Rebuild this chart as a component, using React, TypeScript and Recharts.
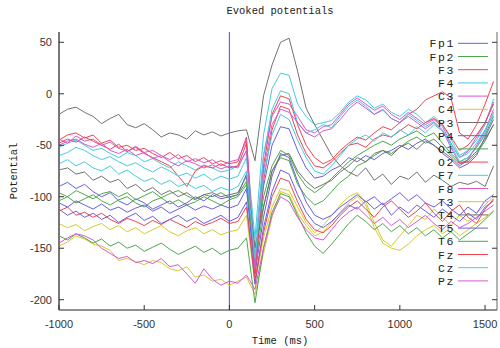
import React from 'react';
import { LineChart, Line, XAxis, YAxis, ReferenceLine } from 'recharts';

const times = [-1000, -950, -900, -850, -800, -750, -700, -650, -600, -550, -500, -450, -400, -350, -300, -250, -200, -150, -100, -50, 0, 50, 100, 150, 200, 250, 300, 350, 400, 450, 500, 550, 600, 650, 700, 750, 800, 850, 900, 950, 1000, 1050, 1100, 1150, 1200, 1250, 1300, 1350, 1400, 1450, 1500, 1550];

const xTicks = [-1000, -500, 0, 500, 1000, 1500];
const yTicks = [-200, -150, -100, -50, 0, 50];
const stimulusTime = [0];

const channelNames = ['Fp1', 'Fp2', 'F3', 'F4', 'C3', 'C4', 'P3', 'P4', 'O1', 'O2', 'F7', 'F8', 'T3', 'T4', 'T5', 'T6', 'Fz', 'Cz', 'Pz'];

const palette = ['#6a5ee0', '#4aa84a', '#ee4450', '#45cce0', '#d858d0', '#d6ca30', '#727272'];

const Fp1 = [-90, -86, -92, -88, -95, -100, -96, -104, -108, -102, -106, -112, -108, -104, -110, -106, -100, -104, -98, -102, -100, -98, -78, -165, -90, -50, -32, -34, -55, -72, -82, -80, -74, -70, -62, -66, -60, -64, -58, -55, -50, -54, -48, -44, -50, -58, -64, -72, -68, -60, -42, -25];
const Fp2 = [-104, -100, -106, -102, -98, -104, -108, -103, -100, -106, -110, -104, -101, -107, -103, -108, -105, -100, -104, -108, -103, -100, -88, -170, -110, -75, -62, -65, -88, -100, -108, -104, -95, -86, -80, -70, -66, -60, -55, -58, -52, -46, -42, -48, -44, -52, -60, -68, -66, -58, -46, -30];
const F3 = [-45, -40, -38, -43, -40, -48, -45, -52, -50, -55, -53, -58, -62, -57, -63, -60, -66, -62, -68, -65, -68, -66, -42, -170, -70, -20, -2, -5, -30, -50, -62, -68, -64, -55, -48, -42, -45, -38, -32, -35, -28, -20, -15, -6, -2, 2, -4, -38, -44, -30, -10, 12];
const F4 = [-52, -48, -45, -50, -55, -53, -58, -62, -57, -60, -66, -63, -68, -72, -66, -70, -74, -69, -72, -76, -74, -70, -55, -140, -40, 5, 20, 18, -10, -22, -30, -28, -26, -18, -8, -2, -6, -14, -10, -18, -22, -15, -20, -28, -22, -30, -44, -60, -55, -45, -30, -5];
const C3 = [-44, -48, -41, -46, -44, -50, -47, -53, -56, -51, -57, -55, -60, -64, -59, -66, -63, -67, -64, -70, -66, -64, -45, -165, -60, -22, -8, -10, -22, -35, -38, -32, -30, -20, -10, -4, -10, -16, -12, -20, -25, -18, -24, -30, -25, -32, -48, -62, -56, -42, -28, -8];
const C4 = [-126, -130, -127, -133, -129, -126, -132, -128, -134, -130, -136, -132, -128, -134, -138, -133, -130, -136, -132, -137, -134, -132, -118, -185, -140, -110, -92, -94, -110, -125, -135, -128, -118, -108, -100, -96, -105, -125, -142, -148, -138, -128, -118, -122, -112, -120, -128, -118, -124, -116, -108, -100];
const P3 = [-20, -15, -13, -18, -22, -29, -24, -20, -30, -33, -29, -35, -42, -38, -40, -44, -36, -40, -37, -41, -38, -36, -35, -65, -2, 28, 50, 54, 22, -14, -30, -45, -60, -70, -76, -80, -72, -84, -78, -88, -80, -83, -76, -86, -79, -84, -90, -86, -88, -85, -90, -70];
const P4 = [-106, -110, -104, -108, -112, -107, -113, -110, -115, -111, -108, -114, -110, -116, -112, -108, -113, -109, -112, -108, -111, -108, -92, -175, -120, -80, -58, -62, -85, -105, -118, -122, -118, -110, -104, -98, -105, -100, -108, -102, -96, -104, -98, -106, -110, -104, -112, -118, -110, -116, -104, -98];
const O1 = [-96, -100, -94, -98, -102, -97, -95, -100, -96, -103, -99, -95, -101, -97, -94, -99, -103, -98, -100, -96, -101, -98, -85, -160, -100, -70, -55, -60, -78, -90, -96, -90, -82, -74, -66, -60, -55, -50, -46, -50, -44, -40, -36, -42, -38, -48, -58, -66, -62, -52, -40, -22];
const O2 = [-48, -44, -47, -42, -46, -50, -54, -49, -56, -52, -58, -62, -66, -70, -80, -90, -75, -70, -72, -68, -72, -70, -48, -175, -85, -35, -12, -15, -40, -58, -70, -72, -66, -58, -50, -48, -52, -44, -40, -42, -36, -30, -34, -28, -24, -30, -42, -55, -50, -40, -28, -10];
const F7 = [-60, -57, -52, -55, -60, -64, -61, -66, -70, -67, -72, -76, -71, -75, -80, -77, -82, -78, -84, -80, -83, -80, -62, -150, -60, -15, 3, 0, -28, -38, -35, -30, -33, -22, -12, -6, -12, -20, -16, -24, -28, -20, -26, -32, -27, -35, -50, -66, -62, -52, -38, -18];
const F8 = [-50, -46, -44, -49, -52, -48, -55, -58, -54, -60, -57, -63, -60, -66, -70, -65, -68, -72, -69, -73, -70, -72, -55, -170, -75, -30, -15, -18, -28, -38, -42, -36, -34, -25, -15, -8, -14, -20, -15, -24, -28, -22, -28, -34, -28, -36, -52, -68, -64, -50, -36, -15];
const T3 = [-148, -144, -138, -141, -146, -148, -152, -162, -160, -163, -166, -162, -164, -170, -172, -168, -178, -176, -182, -180, -186, -182, -178, -195, -155, -120, -95, -98, -116, -128, -138, -134, -125, -115, -106, -100, -108, -130, -145, -150, -152, -146, -138, -132, -128, -136, -130, -138, -132, -126, -120, -114];
const T4 = [-74, -72, -78, -76, -84, -80, -86, -83, -92, -88, -95, -91, -98, -94, -100, -96, -102, -98, -96, -100, -98, -96, -80, -150, -110, -75, -60, -58, -75, -85, -92, -88, -84, -76, -70, -62, -66, -58, -55, -60, -52, -48, -54, -46, -50, -56, -62, -70, -64, -56, -44, -30];
const T5 = [-112, -118, -114, -120, -116, -122, -118, -125, -120, -116, -123, -119, -126, -122, -118, -124, -120, -126, -122, -118, -124, -120, -105, -185, -130, -95, -74, -78, -98, -115, -126, -130, -124, -116, -108, -112, -104, -112, -106, -118, -110, -116, -108, -114, -120, -112, -118, -124, -116, -122, -110, -104];
const T6 = [-138, -142, -136, -140, -145, -141, -148, -144, -150, -147, -153, -149, -145, -151, -156, -152, -148, -154, -150, -156, -152, -150, -140, -203, -150, -115, -97, -100, -118, -135, -148, -155, -146, -136, -126, -118, -124, -132, -126, -134, -128, -136, -130, -138, -132, -140, -134, -142, -136, -130, -122, -114];
const Fz = [-114, -110, -118, -115, -120, -116, -122, -126, -121, -124, -128, -123, -127, -122, -126, -130, -124, -128, -125, -121, -126, -124, -110, -180, -135, -100, -82, -85, -105, -122, -132, -135, -128, -118, -110, -104, -112, -120, -110, -104, -112, -120, -114, -106, -116, -124, -114, -108, -120, -126, -112, -102];
const Cz = [-68, -64, -70, -66, -72, -75, -70, -78, -74, -80, -85, -82, -88, -84, -90, -87, -92, -89, -95, -91, -94, -90, -75, -160, -80, -40, -20, -25, -45, -62, -75, -78, -70, -60, -50, -44, -40, -46, -38, -42, -35, -40, -32, -38, -30, -36, -48, -62, -58, -48, -35, -20];
const Pz = [-145, -140, -136, -138, -142, -150, -155, -160, -158, -164, -162, -165, -160, -168, -166, -175, -184, -170, -180, -186, -182, -184, -176, -190, -150, -118, -100, -105, -120, -132, -140, -142, -132, -122, -115, -110, -118, -126, -120, -128, -122, -130, -124, -118, -126, -132, -124, -130, -126, -120, -114, -108];

const seriesValues: Record<string, number[]> = { Fp1, Fp2, F3, F4, C3, C4, P3, P4, O1, O2, F7, F8, T3, T4, T5, T6, Fz, Cz, Pz };

const data = times.map((t, i) => {
  const row: Record<string, number> = { t };
  channelNames.forEach((n) => {
    row[n] = seriesValues[n][i];
  });
  return row;
});

const W = 500;
const H = 348;
const PLOT_LEFT = 59;
const PLOT_RIGHT = 497;
const PLOT_TOP = 32;
const PLOT_BOTTOM = 310;
const TICK_LEN = 5;
const tickFont = '"Liberation Sans", Arial, sans-serif';
const monoFont = '"Liberation Mono", "DejaVu Sans Mono", monospace';

const BottomTick = (props: any) => {
  const { x, y, payload } = props;
  return (
    <g>
      <line x1={x} x2={x} y1={y} y2={y - TICK_LEN} stroke="#333" strokeWidth={1} />
      <text x={x} y={y + 18} textAnchor="middle" fontSize={11} fontFamily={tickFont} fill="#333">
        {payload.value}
      </text>
    </g>
  );
};

const TopTick = (props: any) => {
  const { x, y, payload } = props;
  if (payload && payload.value === 0) return <g />;
  return <line x1={x} x2={x} y1={y} y2={y + TICK_LEN} stroke="#333" strokeWidth={1} />;
};

const LeftTick = (props: any) => {
  const { x, y, payload } = props;
  return (
    <g>
      <line x1={x} x2={x + TICK_LEN} y1={y} y2={y} stroke="#333" strokeWidth={1} />
      <text x={x - 7} y={y + 4} textAnchor="end" fontSize={11} fontFamily={tickFont} fill="#333">
        {payload.value}
      </text>
    </g>
  );
};

const RightTick = (props: any) => {
  const { x, y } = props;
  return <line x1={x} x2={x - TICK_LEN} y1={y} y2={y} stroke="#333" strokeWidth={1} />;
};

export default function App() {
  return (
    <div style={{ position: 'absolute', left: 0, top: 0, width: W, height: H, background: '#fff' }}>
      <LineChart
        width={W}
        height={H}
        data={data}
        margin={{ top: PLOT_TOP, right: 0, bottom: 0, left: 0 }}
      >
        <XAxis
          xAxisId="b"
          dataKey="t"
          type="number"
          domain={[-1000, 1570]}
          ticks={xTicks}
          allowDataOverflow
          height={H - PLOT_BOTTOM}
          tickSize={0}
          tickMargin={0}
          tick={<BottomTick />}
          axisLine={{ stroke: '#222', strokeWidth: 1 }}
          tickLine={false}
          interval={0}
        />
        <XAxis
          xAxisId="top"
          orientation="top"
          dataKey="t"
          type="number"
          domain={[-1000, 1570]}
          ticks={xTicks}
          allowDataOverflow
          height={0}
          tickSize={0}
          tickMargin={0}
          tick={<TopTick />}
          axisLine={{ stroke: '#666', strokeWidth: 1 }}
          tickLine={false}
          interval={0}
        />
        <YAxis
          yAxisId="l"
          type="number"
          domain={[-210, 60]}
          ticks={yTicks}
          allowDataOverflow
          width={PLOT_LEFT}
          tickSize={0}
          tickMargin={0}
          tick={<LeftTick />}
          axisLine={{ stroke: '#777', strokeWidth: 2 }}
          tickLine={false}
          interval={0}
        />
        <YAxis
          yAxisId="r"
          orientation="right"
          type="number"
          domain={[-210, 60]}
          ticks={yTicks}
          allowDataOverflow
          width={W - PLOT_RIGHT}
          tickSize={0}
          tickMargin={0}
          tick={<RightTick />}
          axisLine={{ stroke: '#666', strokeWidth: 1 }}
          tickLine={false}
          interval={0}
        />
        {stimulusTime.map((s) => (
          <ReferenceLine
            key={s}
            xAxisId="b"
            yAxisId="l"
            x={s}
            stroke="#6262f2"
            strokeWidth={1.2}
          />
        ))}
        {channelNames.map((n, i) => (
          <Line
            key={n}
            xAxisId="b"
            yAxisId="l"
            type="linear"
            dataKey={n}
            stroke={palette[i % palette.length]}
            strokeWidth={1}
            dot={false}
            activeDot={false}
            isAnimationActive={false}
          />
        ))}
      </LineChart>
      <svg
        width={W}
        height={H}
        style={{ position: 'absolute', left: 0, top: 0, pointerEvents: 'none' }}
      >
        <text x={280} y={14} textAnchor="middle" fontSize={10.5} fontFamily={monoFont} fill="#222">
          Evoked potentials
        </text>
        <text x={280} y={344} textAnchor="middle" fontSize={10.5} fontFamily={monoFont} fill="#222">
          Time (ms)
        </text>
        <text
          x={17}
          y={171}
          textAnchor="middle"
          fontSize={10.5}
          fontFamily={monoFont}
          fill="#222"
          transform="rotate(-90 17 171)"
        >
          Potential
        </text>
        {channelNames.map((n, i) => {
          const cy = 43.3 + i * 13.2;
          return (
            <g key={n}>
              <text
                x={455}
                y={cy + 4}
                textAnchor="end"
                fontSize={11.5}
                letterSpacing={1.6}
                fontFamily={monoFont}
                fill="#222"
              >
                {n}
              </text>
              <line x1={458} x2={488} y1={cy} y2={cy} stroke={palette[i % palette.length]} strokeWidth={1} />
            </g>
          );
        })}
      </svg>
    </div>
  );
}
